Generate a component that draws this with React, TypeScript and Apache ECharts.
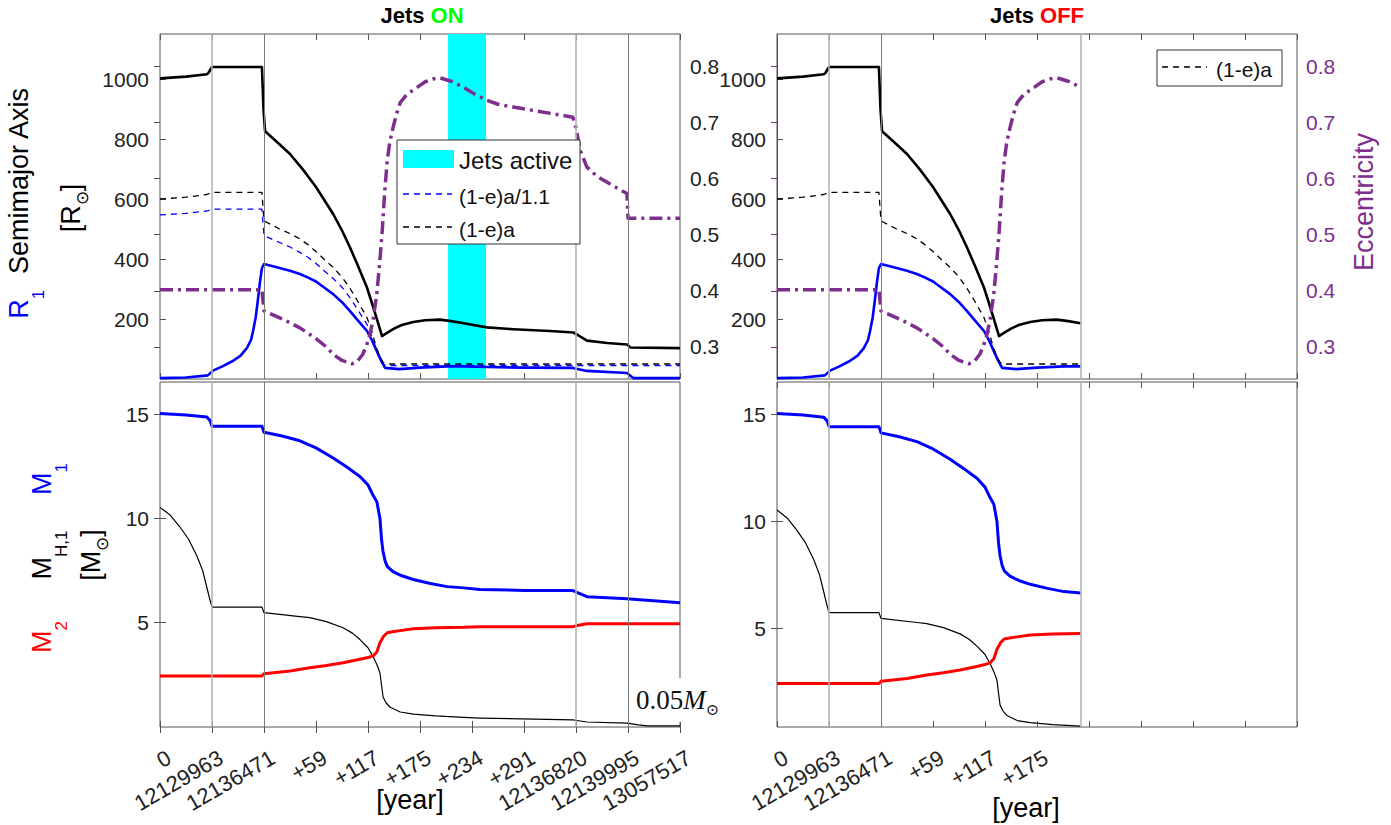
import React, { useEffect, useRef } from 'react';
import * as echarts from 'echarts';

// ---------- axis / annotation data ----------
const X_LABELS = ['0', '12129963', '12136471', '+59', '+117', '+175', '+234', '+291', '12136820', '12139995', '13057517'];
const X_TICKS = [0, 1, 2, 3, 4, 5, 6, 7, 8, 9, 10];
const X_TICKS_OFF_LABELED = [0, 1, 2, 3, 4, 5];
const SEMI_TICKS = [200, 400, 600, 800, 1000];
const ECC_TICKS = [0.3, 0.4, 0.5, 0.6, 0.7, 0.8];
const MASS_TICKS = [5, 10, 15];
const JETS_ACTIVE = [5.54, 6.27];
const GUIDES_ON = [1, 2, 8, 9];
const GUIDES_OFF = [1, 2, 5.84];
const OFF_END = 5.84;

// ---------- series data (x = tick index position, y = value) ----------
const SEMIMAJOR: number[][] = [[0, 1002], [0.5, 1008], [0.9, 1016], [0.93, 1020], [1.0, 1040], [1.96, 1040], [1.99, 900], [2.02, 826], [2.25, 790], [2.5, 750], [2.75, 698], [3.0, 640], [3.33, 550], [3.5, 495], [3.65, 440], [3.8, 380], [3.98, 305], [4.1, 240], [4.27, 143], [4.35, 152], [4.5, 168], [4.65, 180], [4.87, 190], [5.1, 196], [5.38, 198], [5.6, 193], [5.84, 186], [6.29, 172], [6.79, 166], [7.5, 160], [7.95, 155], [8.05, 145], [8.21, 128], [8.6, 120], [8.98, 115], [9.05, 105], [10, 103]];
const R1: number[][] = [[0, 3], [0.5, 5], [0.92, 12], [1.02, 28], [1.2, 42], [1.4, 60], [1.55, 78], [1.67, 103], [1.75, 130], [1.79, 160], [1.84, 205], [1.88, 260], [1.92, 320], [1.96, 370], [2.0, 383], [2.3, 370], [2.5, 361], [2.69, 350], [2.85, 338], [3.0, 325], [3.15, 306], [3.33, 283], [3.5, 256], [3.65, 227], [3.8, 196], [3.98, 160], [4.08, 128], [4.17, 93], [4.25, 62], [4.33, 37], [4.6, 33], [5.0, 38], [5.52, 42], [5.84, 42], [6.3, 40], [7.0, 38], [7.94, 37], [8.21, 27], [8.98, 20], [9.1, 3], [10, 3]];
const PERI_11: number[][] = [[0, 547], [0.5, 552], [0.9, 560], [1.0, 566], [1.96, 566], [2.0, 478], [2.3, 455], [2.5, 440], [2.69, 422], [2.85, 405], [3.0, 385], [3.15, 362], [3.33, 335], [3.5, 306], [3.65, 272], [3.8, 232], [3.98, 182], [4.08, 138], [4.17, 90], [4.24, 62], [4.29, 48], [4.4, 45], [5.84, 45], [10, 45]];
const PERI: number[][] = [[0, 600], [0.5, 606], [0.9, 615], [1.0, 622], [1.96, 622], [2.0, 527], [2.3, 500], [2.5, 485], [2.69, 467], [2.85, 447], [3.0, 425], [3.15, 400], [3.33, 372], [3.5, 340], [3.65, 303], [3.8, 260], [3.98, 205], [4.08, 155], [4.17, 100], [4.24, 72], [4.29, 55], [4.4, 50], [5.84, 50], [10, 50]];
const ECC: number[][] = [[0, 0.402], [1.96, 0.402], [2.0, 0.364], [2.35, 0.35], [2.69, 0.334], [3.0, 0.315], [3.2, 0.3], [3.33, 0.287], [3.5, 0.276], [3.69, 0.27], [3.8, 0.275], [3.9, 0.287], [3.97, 0.302], [4.04, 0.323], [4.1, 0.35], [4.17, 0.395], [4.22, 0.445], [4.27, 0.502], [4.32, 0.575], [4.37, 0.632], [4.42, 0.665], [4.48, 0.69], [4.55, 0.715], [4.62, 0.735], [4.75, 0.75], [4.87, 0.757], [5.1, 0.772], [5.25, 0.777], [5.38, 0.779], [5.6, 0.773], [5.84, 0.762], [6.05, 0.75], [6.29, 0.739], [6.5, 0.732], [6.79, 0.727], [7.94, 0.709], [8.0, 0.69], [8.08, 0.65], [8.21, 0.62], [8.4, 0.604], [8.6, 0.593], [8.98, 0.573], [9.0, 0.529], [10, 0.529]];
const M1: number[][] = [[0, 15.03], [0.5, 14.96], [0.9, 14.86], [0.96, 14.7], [1.0, 14.42], [1.96, 14.42], [2.0, 14.13], [2.35, 13.95], [2.69, 13.72], [3.0, 13.38], [3.33, 12.9], [3.6, 12.45], [3.85, 12.0], [4.0, 11.6], [4.1, 11.1], [4.17, 10.8], [4.23, 10.0], [4.26, 9.0], [4.29, 8.4], [4.33, 7.95], [4.37, 7.7], [4.48, 7.45], [4.65, 7.25], [4.87, 7.07], [5.2, 6.88], [5.52, 6.73], [5.84, 6.67], [6.15, 6.59], [7.0, 6.55], [7.94, 6.54], [8.05, 6.42], [8.21, 6.25], [8.6, 6.2], [8.98, 6.15], [10, 5.96]];
const M2: number[][] = [[0, 2.45], [1.96, 2.45], [2.0, 2.55], [2.5, 2.68], [2.88, 2.84], [3.2, 2.95], [3.52, 3.08], [3.8, 3.22], [4.0, 3.33], [4.1, 3.41], [4.17, 3.6], [4.23, 4.04], [4.3, 4.35], [4.37, 4.52], [4.5, 4.58], [4.62, 4.62], [4.87, 4.71], [5.3, 4.76], [5.84, 4.78], [6.15, 4.81], [7.94, 4.81], [8.05, 4.88], [8.21, 4.95], [10, 4.95]];
const MH1: number[][] = [[0, 10.53], [0.2, 10.15], [0.38, 9.6], [0.55, 9.0], [0.71, 8.2], [0.82, 7.5], [0.9, 6.7], [0.96, 6.1], [1.0, 5.75], [1.96, 5.75], [2.0, 5.48], [2.69, 5.29], [2.88, 5.24], [3.2, 5.05], [3.52, 4.76], [3.7, 4.5], [3.85, 4.18], [4.0, 3.8], [4.1, 3.37], [4.17, 3.0], [4.23, 2.6], [4.26, 2.0], [4.29, 1.44], [4.35, 1.15], [4.42, 0.96], [4.62, 0.72], [4.87, 0.62], [5.3, 0.53], [5.84, 0.46], [6.15, 0.43], [7.94, 0.34], [8.05, 0.3], [8.21, 0.24], [8.98, 0.19], [9.2, 0.1], [9.37, 0.05], [10, 0.05]];

const FONT = 'Liberation Sans, Arial, sans-serif';
const SERIF = 'Liberation Serif, DejaVu Serif, serif';
const PURPLE = '#7E2F8E';
const BLUE = '#0000FF';
const RED = '#FF0000';
const TXT = '#222';
const LABEL_NUDGE_PX = 9; // rotated tick labels sit slightly right of their ticks

const trunc = (arr: number[][]) => arr.filter((p) => p[0] <= OFF_END + 1e-9);

function buildOption() {
  const gridBox = [
    { left: 160, top: 34, width: 520, height: 345 },
    { left: 160, top: 382, width: 520, height: 345 },
    { left: 777, top: 34, width: 520, height: 345 },
    { left: 777, top: 382, width: 520, height: 345 },
  ];
  const grid: any[] = gridBox.map((g) => ({ ...g, show: true, borderColor: '#555', borderWidth: 1 }));
  // invisible helper grids that carry the rotated tick labels of the bottom panels
  grid.push({ ...gridBox[1], left: gridBox[1].left + LABEL_NUDGE_PX, show: false });
  grid.push({ ...gridBox[3], left: gridBox[3].left + LABEL_NUDGE_PX, show: false });

  const tickStyle = { color: '#555', width: 1 };
  const xAxis: any[] = [];
  gridBox.forEach((_, gi) => {
    xAxis.push({
      type: 'value', gridIndex: gi, min: 0, max: 10, position: 'bottom',
      axisLine: { show: false }, splitLine: { show: false },
      axisTick: { show: true, inside: true, length: 6, customValues: X_TICKS, lineStyle: tickStyle },
      axisLabel: { show: false },
    });
    xAxis.push({
      type: 'value', gridIndex: gi, min: 0, max: 10, position: 'top',
      axisLine: { show: false }, splitLine: { show: false },
      axisTick: { show: true, inside: true, length: 6, customValues: X_TICKS, lineStyle: tickStyle },
      axisLabel: { show: false },
    });
  });
  [4, 5].forEach((gi) => {
    xAxis.push({
      type: 'value', gridIndex: gi, min: 0, max: 10, position: 'bottom',
      axisLine: { show: false }, splitLine: { show: false }, axisTick: { show: false },
      axisLabel: {
        show: true, customValues: gi === 4 ? X_TICKS : X_TICKS_OFF_LABELED, rotate: 30, margin: 29,
        fontSize: 22, fontFamily: FONT, color: TXT, showMinLabel: true, showMaxLabel: true,
        formatter: (v: number) => X_LABELS[Math.round(v)] ?? '',
      },
    });
  });

  const num = (v: number) => String(v);
  const yBase = { type: 'value', splitLine: { show: false }, axisLine: { show: false } };
  const yAxis: any[] = [
    { ...yBase, gridIndex: 0, position: 'left', min: 0, max: 1150,
      axisTick: { inside: true, length: 6, customValues: SEMI_TICKS, lineStyle: tickStyle },
      axisLabel: { customValues: SEMI_TICKS, fontSize: 21, fontFamily: FONT, color: TXT, margin: 11, formatter: num } },
    { ...yBase, gridIndex: 0, position: 'right', min: 0.243, max: 0.857,
      axisTick: { inside: true, length: 6, customValues: ECC_TICKS, lineStyle: tickStyle },
      axisLabel: { customValues: ECC_TICKS, fontSize: 21, fontFamily: FONT, color: TXT, margin: 10, formatter: (v: number) => v.toFixed(1) } },
    { ...yBase, gridIndex: 1, position: 'left', min: 0, max: 16.54,
      axisTick: { inside: true, length: 6, customValues: MASS_TICKS, lineStyle: tickStyle },
      axisLabel: { customValues: MASS_TICKS, fontSize: 21, fontFamily: FONT, color: TXT, margin: 11, formatter: num } },
    { ...yBase, gridIndex: 1, position: 'right', min: 0, max: 16.54,
      axisTick: { inside: true, length: 6, customValues: MASS_TICKS, lineStyle: tickStyle },
      axisLabel: { show: false } },
    { ...yBase, gridIndex: 2, position: 'left', min: 0, max: 1150,
      axisTick: { inside: true, length: 6, customValues: SEMI_TICKS, lineStyle: tickStyle },
      axisLabel: { customValues: SEMI_TICKS, fontSize: 21, fontFamily: FONT, color: TXT, margin: 11, formatter: num } },
    { ...yBase, gridIndex: 2, position: 'right', min: 0.243, max: 0.857,
      axisLine: { show: true, lineStyle: { color: PURPLE, width: 1 } },
      axisTick: { inside: true, length: 6, customValues: ECC_TICKS, lineStyle: { color: PURPLE } },
      axisLabel: { customValues: ECC_TICKS, fontSize: 21, fontFamily: FONT, color: PURPLE, margin: 9, formatter: (v: number) => v.toFixed(1) } },
    { ...yBase, gridIndex: 3, position: 'left', min: 0.42, max: 16.5,
      axisTick: { inside: true, length: 6, customValues: MASS_TICKS, lineStyle: tickStyle },
      axisLabel: { customValues: MASS_TICKS, fontSize: 21, fontFamily: FONT, color: TXT, margin: 11, formatter: num } },
    { ...yBase, gridIndex: 3, position: 'right', min: 0.42, max: 16.5,
      axisTick: { inside: true, length: 6, customValues: MASS_TICKS, lineStyle: tickStyle },
      axisLabel: { show: false } },
    { ...yBase, gridIndex: 4, min: 0, max: 1, axisTick: { show: false }, axisLabel: { show: false } },
    { ...yBase, gridIndex: 5, min: 0, max: 1, axisTick: { show: false }, axisLabel: { show: false } },
  ];

  const guides = (vals: number[]) => ({
    silent: true, symbol: ['none', 'none'], label: { show: false },
    data: vals.map((v) => ({ xAxis: v, lineStyle: { color: v === 2 || v === 9 ? '#7a7a7a' : '#b5b5b5', width: v === 2 || v === 9 ? 1 : 1.6, type: 'solid' } })),
  });

  const line = (name: string, data: number[][], xi: number, yi: number, color: string, width: number, type: any, z = 3, extra: any = {}) => ({
    type: 'line', name, data, xAxisIndex: xi, yAxisIndex: yi, showSymbol: false, symbol: 'none',
    lineStyle: { color, width, type, join: 'round' }, itemStyle: { color }, z, animation: false, silent: true, ...extra,
  });

  const dashDot = [13, 5, 3, 5];
  const series: any[] = [];
  // Top-left (Jets ON)
  series.push(line('a', SEMIMAJOR, 0, 0, '#000', 2.6, 'solid', 3, {
    markLine: guides(GUIDES_ON),
    markArea: { silent: true, itemStyle: { color: '#00FFFF', opacity: 1 }, data: [[{ xAxis: JETS_ACTIVE[0] }, { xAxis: JETS_ACTIVE[1] }]] },
  }));
  series.push(line('R1', R1, 0, 0, BLUE, 2.6, 'solid'));
  series.push(line('(1-e)a', PERI, 0, 0, '#000', 1.3, [6, 5]));
  series.push(line('(1-e)a/1.1', PERI_11, 0, 0, BLUE, 1.3, [6, 5]));
  series.push(line('e', ECC, 0, 1, PURPLE, 3.5, dashDot, 4));
  // Bottom-left
  series.push(line('MH1', MH1, 2, 2, '#000', 1.2, 'solid', 3, { markLine: guides(GUIDES_ON) }));
  series.push(line('M2', M2, 2, 2, RED, 3, 'solid'));
  series.push(line('M1', M1, 2, 2, BLUE, 3, 'solid'));
  // Top-right (Jets OFF)
  series.push(line('a_off', trunc(SEMIMAJOR), 4, 4, '#000', 2.6, 'solid', 3, { markLine: guides(GUIDES_OFF) }));
  series.push(line('R1_off', trunc(R1), 4, 4, BLUE, 2.6, 'solid'));
  series.push(line('peri_off', trunc(PERI), 4, 4, '#000', 1.3, [6, 5]));
  series.push(line('e_off', trunc(ECC), 4, 5, PURPLE, 3.5, dashDot, 4));
  // Bottom-right
  series.push(line('MH1_off', trunc(MH1), 6, 6, '#000', 1.2, 'solid', 3, { markLine: guides(GUIDES_OFF) }));
  series.push(line('M2_off', trunc(M2), 6, 6, RED, 3, 'solid'));
  series.push(line('M1_off', trunc(M1), 6, 6, BLUE, 3, 'solid'));

  const tok = (color: string, size: number, lh: number, extra: any = {}) => ({ fontSize: size, fontFamily: FONT, fill: color, color, lineHeight: lh, ...extra });
  const sub = (color: string) => tok(color, 17, 17, { verticalAlign: 'bottom' });
  const vtext = (x: number, y: number, text: string, rich: any) => ({
    type: 'text', x, y, rotation: Math.PI / 2, z: 100,
    style: { text, rich, align: 'center', verticalAlign: 'middle' },
  });
  const htext = (x: number, y: number, text: string, rich: any, align = 'center') => ({
    type: 'text', x, y, z: 100, style: { text, rich, align, verticalAlign: 'middle' },
  });

  const graphic: any[] = [
    // titles
    htext(422, 15, '{k|Jets }{g|ON}', { k: { ...tok('#000', 22, 26), fontWeight: 'bold' }, g: { ...tok('#00FF00', 22, 26), fontWeight: 'bold' } }),
    htext(1037, 15, '{k|Jets }{g|OFF}', { k: { ...tok('#000', 22, 26), fontWeight: 'bold' }, g: { ...tok(RED, 22, 26), fontWeight: 'bold' } }),
    // top y label
    vtext(19, 203, '{r|R}{rs|1}{k|  Semimajor Axis}', { r: tok(BLUE, 27, 56), rs: sub(BLUE), k: tok('#000', 27, 56) }),
    vtext(71, 208, '{k|[R}{s|\u2299}{k|]}', { k: tok('#000', 27, 39), s: sub('#000') }),
    // eccentricity label
    vtext(1364, 202, '{e|Eccentricity}', { e: tok(PURPLE, 27, 34) }),
    // bottom y labels
    vtext(42, 479, '{m|M}{s|1}', { m: tok(BLUE, 27, 56), s: sub(BLUE) }),
    vtext(42, 555, '{m|M}{s|H,1}', { m: tok('#000', 27, 56), s: sub('#000') }),
    vtext(91, 555, '{k|[M}{s|\u2299}{k|]}', { k: tok('#000', 27, 39), s: sub('#000') }),
    vtext(42, 637, '{m|M}{s|2}', { m: tok(RED, 27, 56), s: sub(RED) }),
    // x labels
    htext(410, 800, '{k|[year]}', { k: tok('#000', 27, 30) }),
    htext(1026, 808, '{k|[year]}', { k: tok('#000', 27, 30) }),
    // 0.05 Msun annotation
    {
      type: 'text', x: 634, y: 700, z: 100,
      style: {
        text: '{n|0.05}{m|M}{s|\u2299}', align: 'left', verticalAlign: 'middle', backgroundColor: '#fff', padding: [5, 3, 5, 2],
        rich: {
          n: { fontSize: 27, fontFamily: SERIF, fill: '#111', color: '#111', lineHeight: 34 },
          m: { fontSize: 27, fontFamily: SERIF, fontStyle: 'italic', fill: '#111', color: '#111', lineHeight: 34 },
          s: { fontSize: 16, fontFamily: SERIF, fill: '#111', color: '#111', lineHeight: 16, verticalAlign: 'bottom' },
        },
      },
    },
    // legend (Jets ON)
    { type: 'rect', z: 100, shape: { x: 397, y: 140, width: 183, height: 104 }, style: { fill: '#fff', stroke: '#333', lineWidth: 1 } },
    { type: 'rect', z: 101, shape: { x: 403, y: 150, width: 51, height: 18 }, style: { fill: '#00FFFF' } },
    htext(459, 160, '{k|Jets active}', { k: tok('#111', 24, 28) }, 'left'),
    { type: 'line', z: 101, shape: { x1: 403, y1: 194, x2: 452, y2: 194 }, style: { stroke: BLUE, lineWidth: 1.3, lineDash: [6, 5] } },
    htext(459, 196, '{k|(1-e)a/1.1}', { k: tok('#111', 21, 26) }, 'left'),
    { type: 'line', z: 101, shape: { x1: 403, y1: 227, x2: 452, y2: 227 }, style: { stroke: '#000', lineWidth: 1.3, lineDash: [6, 5] } },
    htext(459, 229, '{k|(1-e)a}', { k: tok('#111', 21, 26) }, 'left'),
    // legend (Jets OFF)
    { type: 'rect', z: 100, shape: { x: 1157, y: 50, width: 125, height: 36 }, style: { fill: '#fff', stroke: '#333', lineWidth: 1 } },
    { type: 'line', z: 101, shape: { x1: 1162, y1: 67, x2: 1207, y2: 67 }, style: { stroke: '#000', lineWidth: 1.3, lineDash: [6, 5] } },
    htext(1216, 69, '{k|(1-e)a}', { k: tok('#111', 21, 26) }, 'left'),
  ];

  return {
    animation: false,
    backgroundColor: '#fff',
    textStyle: { fontFamily: FONT },
    grid, xAxis, yAxis, series, graphic,
  };
}

export default function App() {
  const ref = useRef<HTMLDivElement>(null);
  useEffect(() => {
    if (!ref.current) return;
    const chart = echarts.init(ref.current, undefined, { renderer: 'svg' });
    chart.setOption(buildOption() as any);
    return () => chart.dispose();
  }, []);
  return <div ref={ref} style={{ position: 'fixed', left: 0, top: 0, width: 1391, height: 825, background: '#fff' }} />;
}
